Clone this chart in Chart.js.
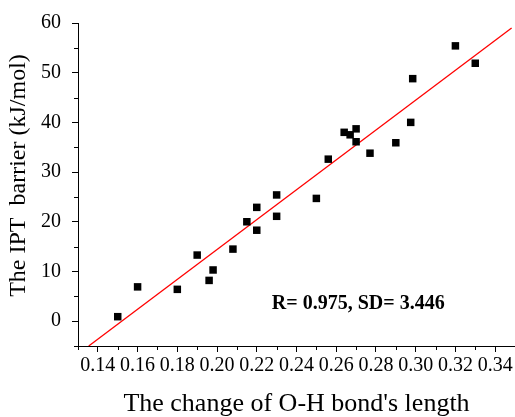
<!DOCTYPE html>
<html><head><meta charset="utf-8">
<script src="https://cdn.jsdelivr.net/npm/chart.js@4/dist/chart.umd.min.js"></script>
<style>html,body{margin:0;padding:0;background:#fff}#w{width:515px;height:417px}</style>
</head><body><div id="w"><canvas id="c" width="515" height="417"></canvas></div>
<script>
// Data
const bondChange = [0.15, 0.16, 0.18, 0.19, 0.196, 0.198, 0.208, 0.215, 0.22, 0.22, 0.23, 0.23, 0.25, 0.256, 0.264, 0.267, 0.27, 0.27, 0.277, 0.29, 0.2975, 0.2985, 0.32, 0.33];
const barrier    = [0.9, 6.9, 6.4, 13.3, 8.2, 10.3, 14.5, 20.0, 18.3, 22.9, 21.1, 25.4, 24.7, 32.6, 38.0, 37.5, 38.7, 36.1, 33.8, 35.9, 40.0, 48.8, 55.4, 51.9];
const fitX = [0.1354, 0.3483];
const fitY = [-5, 59.0];
const xTickValues = [0.14, 0.16, 0.18, 0.20, 0.22, 0.24, 0.26, 0.28, 0.30, 0.32, 0.34];
const yTickValues = [0, 10, 20, 30, 40, 50, 60];
const xMinorTicks = [0.13, 0.15, 0.17, 0.19, 0.21, 0.23, 0.25, 0.27, 0.29, 0.31, 0.33, 0.35];
const yMinorTicks = [-5, 5, 15, 25, 35, 45, 55];
const xTitle = "The change of O-H bond's length";
const yTitle = "The IPT  barrier (kJ/mol)";
const annotationText = "R= 0.975, SD= 3.446";

const serif = "'Liberation Serif', 'Times New Roman', serif";

const extras = {
  id: 'extras',
  afterDraw(chart, args, opts) {
    const ctx = chart.ctx;
    const xs = chart.scales.x, ys = chart.scales.y;
    ctx.save();
    ctx.strokeStyle = '#000';
    ctx.lineWidth = 1;
    ctx.beginPath();
    xMinorTicks.forEach(v => {
      const px = Math.round(xs.getPixelForValue(v)) + 0.5;
      ctx.moveTo(px, xs.top); ctx.lineTo(px, xs.top + 4);
    });
    yMinorTicks.forEach(v => {
      const py = Math.round(ys.getPixelForValue(v)) + 0.5;
      ctx.moveTo(ys.right, py); ctx.lineTo(ys.right - 4, py);
    });
    ctx.stroke();
    ctx.fillStyle = '#000';
    ctx.font = "bold 20px " + serif;
    ctx.textAlign = 'center';
    ctx.textBaseline = 'alphabetic';
    ctx.fillText(annotationText, xs.getPixelForValue(opts.at[0]), ys.getPixelForValue(opts.at[1]));
    ctx.restore();
  }
};

new Chart(document.getElementById('c'), {
  data: {
    datasets: [
      {
        type: 'scatter',
        data: bondChange.map((x, i) => ({x, y: barrier[i]})),
        pointStyle: 'rect',
        pointRadius: 5.3,
        pointHoverRadius: 5.3,
        borderWidth: 0,
        backgroundColor: '#000',
        borderColor: '#000',
        order: 1
      },
      {
        type: 'line',
        data: fitX.map((x, i) => ({x, y: fitY[i]})),
        borderColor: '#ff0000',
        borderWidth: 1.3,
        pointRadius: 0,
        fill: false,
        order: 2
      }
    ]
  },
  options: {
    responsive: false,
    animation: false,
    devicePixelRatio: 1,
    layout: { autoPadding: false, padding: { top: 20, right: 0, left: 0, bottom: 0 } },
    plugins: {
      legend: { display: false },
      tooltip: { enabled: false },
      extras: { at: [0.2711, 2.5] }
    },
    scales: {
      x: {
        type: 'linear',
        min: 0.13, max: 0.35,
        afterBuildTicks: s => { s.ticks = xTickValues.map(v => ({value: v})); },
        afterFit: s => { s.height = 71; },
        border: { display: true, color: '#000', width: 1 },
        grid: { drawOnChartArea: false, drawTicks: true, tickLength: 6, tickColor: '#000' },
        ticks: {
          color: '#000', padding: 2, maxRotation: 0, autoSkip: false,
          font: { family: serif, size: 20 },
          callback: v => v.toFixed(2)
        },
        title: {
          display: true, text: xTitle, color: '#000', padding: 0,
          font: { family: serif, size: 26, lineHeight: 1.0 }
        }
      },
      y: {
        type: 'linear',
        min: -5, max: 60,
        afterBuildTicks: s => { s.ticks = yTickValues.map(v => ({value: v})); },
        afterFit: s => { s.width = 78; },
        border: { display: true, color: '#000', width: 1 },
        grid: { drawOnChartArea: false, drawTicks: true, tickLength: 6, tickColor: '#000' },
        ticks: {
          color: '#000', padding: 11, autoSkip: false,
          font: { family: serif, size: 20 },
          callback: v => String(v)
        },
        title: {
          display: true, text: '   ' + yTitle, color: '#000', padding: 0,
          font: { family: serif, size: 24, lineHeight: 1.6 }
        }
      }
    }
  },
  plugins: [extras]
});
</script>
</body></html>
